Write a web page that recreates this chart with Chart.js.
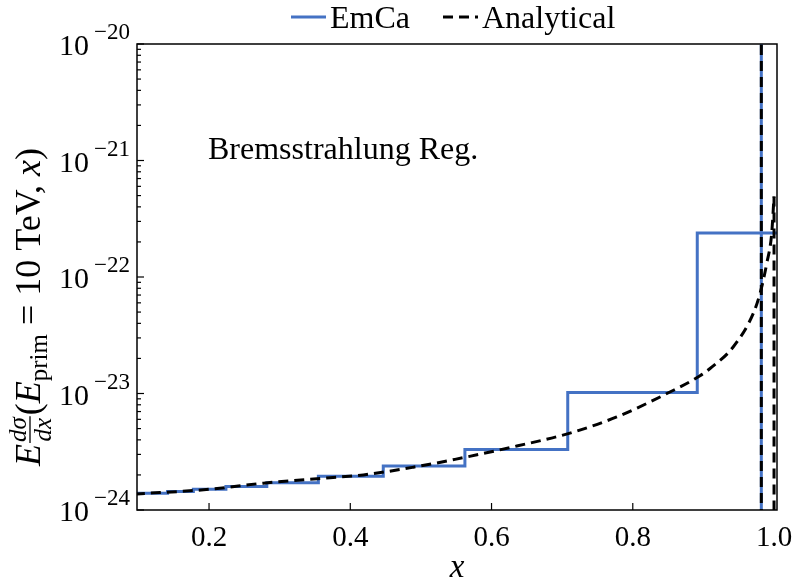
<!DOCTYPE html>
<html>
<head>
<meta charset="utf-8">
<script src="https://cdn.jsdelivr.net/npm/chart.js@4.4.0/dist/chart.umd.min.js"></script>
<style>
  html, body { margin: 0; padding: 0; background: #fff; }
</style>
</head>
<body>
<canvas id="brems" width="793" height="582"></canvas>
<script>
// histogram bin edges (log spaced) and EmCa value of each bin
const binEdges = [0.0891, 0.1122, 0.1413, 0.1778, 0.2239, 0.2818, 0.3548, 0.4467, 0.5623, 0.7079, 0.8913, 1.1220];
const emcaValues = [1.39e-24, 1.39e-24, 1.44e-24, 1.51e-24, 1.59e-24, 1.71e-24, 1.95e-24, 2.39e-24, 3.30e-24, 1.02e-23, 2.39e-22];

// analytical curve
const curveX = [0.095, 0.2014, 0.2769, 0.3713, 0.4185, 0.4893, 0.5483, 0.6357, 0.7098, 0.7773, 0.8533, 0.8952, 0.9094, 0.9424, 0.9707, 0.9802, 0.9897, 0.9967, 1.0];
const curveY = [1.37e-24, 1.507e-24, 1.70e-24, 1.89e-24, 2.0e-24, 2.33e-24, 2.72e-24, 3.54e-24, 4.55e-24, 6.3e-24, 1.035e-23, 1.42e-23, 1.64e-23, 2.52e-23, 4.88e-23, 7.24e-23, 1.31e-22, 2.37e-22, 4.9e-22];
// the curve falls to zero at x = 1
const dropX = [1.0, 1.0];
const dropY = [4.9e-22, 1e-27];

// vertical marker line
const markerX = 0.982;

const xTicks = [0.2, 0.4, 0.6, 0.8, 1.0];
const yExponents = [-24, -23, -22, -21, -20];
const seriesLabels = ['EmCa', 'Analytical'];
const annotationText = 'Bremsstrahlung Reg.';

const blue = '#4472c4';
const serif = '"Liberation Serif", "DejaVu Serif", serif';
const dash = [10, 6];

// step points for the histogram
let stepPoints = [];
for (let i = 0; i < emcaValues.length; i++) {
    stepPoints.push({x: binEdges[i], y: emcaValues[i]});
}
stepPoints.push({x: binEdges[binEdges.length - 1], y: emcaValues[emcaValues.length - 1]});

const curvePoints = curveX.map((v, i) => ({x: v, y: curveY[i]}));
const dropPoints = dropX.map((v, i) => ({x: v, y: dropY[i]}));
const markerPoints = [{x: markerX, y: 1e-26}, {x: markerX, y: 1e-18}];

function drawLine(ctx, x1, y1, x2, y2) {
    ctx.beginPath();
    ctx.moveTo(x1, y1);
    ctx.lineTo(x2, y2);
    ctx.stroke();
}

// frame, inward ticks, y labels, y title, text and legend
const decor = {
    id: 'decor',
    afterDraw(chart) {
        const ctx = chart.ctx;
        const a = chart.chartArea;
        const xs = chart.scales.x;
        const ys = chart.scales.y;
        ctx.save();
        ctx.strokeStyle = '#000';
        ctx.fillStyle = '#000';
        ctx.setLineDash([]);

        ctx.lineWidth = 1.5;
        ctx.strokeRect(a.left, a.top, a.right - a.left, a.bottom - a.top);

        ctx.lineWidth = 1.2;
        xTicks.forEach(v => {
            const px = xs.getPixelForValue(v);
            drawLine(ctx, px, a.bottom, px, a.bottom - 7);
        });
        yExponents.forEach((e, i) => {
            const py = ys.getPixelForValue(Math.pow(10, e));
            drawLine(ctx, a.left, py, a.left + 7, py);
            if (i < yExponents.length - 1) {
                for (let m = 2; m < 10; m++) {
                    const pm = ys.getPixelForValue(m * Math.pow(10, e));
                    drawLine(ctx, a.left, pm, a.left + 4, pm);
                }
            }
            // 10^e label
            const sup = '\u2212' + Math.abs(e);
            ctx.textAlign = 'right';
            ctx.textBaseline = 'alphabetic';
            ctx.font = '23px ' + serif;
            ctx.fillText(sup, a.left - 7, py - 5);
            const w = ctx.measureText(sup).width;
            ctx.font = '30px ' + serif;
            ctx.fillText('10', a.left - 12 - w, py + 11);
        });

        // y axis title, rotated
        const big = 36, small = 25;
        const parts = [
            {t: 'E', f: 'italic ' + big + 'px ' + serif, dy: 0},
            {frac: ['d\u03c3', 'dx']},
            {t: '(', f: big + 'px ' + serif, dy: 0},
            {t: 'E', f: 'italic ' + big + 'px ' + serif, dy: 0},
            {t: 'prim', f: small + 'px ' + serif, dy: 7},
            {t: ' = 10 TeV, ', f: big + 'px ' + serif, dy: 0},
            {t: 'x', f: 'italic ' + big + 'px ' + serif, dy: 0},
            {t: ')', f: big + 'px ' + serif, dy: 0}
        ];
        let total = 0;
        parts.forEach(p => {
            if (p.frac) {
                ctx.font = 'italic ' + small + 'px ' + serif;
                p.w = Math.max(ctx.measureText(p.frac[0]).width, ctx.measureText(p.frac[1]).width) + 4;
            } else {
                ctx.font = p.f;
                p.w = ctx.measureText(p.t).width;
            }
            total += p.w;
        });
        ctx.save();
        ctx.translate(40, (a.top + a.bottom) / 2 + 30);
        ctx.rotate(-Math.PI / 2);
        ctx.textAlign = 'left';
        let cx = -total / 2;
        parts.forEach(p => {
            if (p.frac) {
                ctx.font = 'italic ' + small + 'px ' + serif;
                ctx.textAlign = 'center';
                ctx.fillText(p.frac[0], cx + p.w / 2, -14);
                ctx.fillText(p.frac[1], cx + p.w / 2, 11);
                ctx.lineWidth = 1.3;
                drawLine(ctx, cx + 1, -10, cx + p.w - 1, -10);
                ctx.textAlign = 'left';
            } else {
                ctx.font = p.f;
                ctx.fillText(p.t, cx, p.dy);
            }
            cx += p.w;
        });
        ctx.restore();

        // annotation inside the axes
        ctx.textAlign = 'left';
        ctx.font = '32px ' + serif;
        ctx.fillText(annotationText, a.left + 71, a.top + 115);

        // legend above the axes
        ctx.lineWidth = 3;
        ctx.strokeStyle = blue;
        drawLine(ctx, 291, 17, 326, 17);
        ctx.fillText(seriesLabels[0], 330, 28);
        ctx.strokeStyle = '#000';
        ctx.setLineDash(dash);
        drawLine(ctx, 443, 17, 478, 17);
        ctx.setLineDash([]);
        ctx.fillText(seriesLabels[1], 482, 28);
        ctx.restore();
    }
};

const chart = new Chart(document.getElementById('brems').getContext('2d'), {
    type: 'line',
    data: {
        datasets: [
            {
                label: seriesLabels[0],
                data: stepPoints,
                borderColor: blue,
                borderWidth: 3,
                stepped: true,
                pointRadius: 0,
                fill: false,
                order: 4
            },
            {
                label: seriesLabels[1],
                data: curvePoints,
                borderColor: '#000',
                borderWidth: 3,
                borderDash: dash,
                pointRadius: 0,
                fill: false,
                cubicInterpolationMode: 'monotone',
                order: 1
            },
            {
                label: 'Analytical drop',
                data: dropPoints,
                borderColor: '#000',
                borderWidth: 3,
                borderDash: dash,
                pointRadius: 0,
                fill: false,
                order: 1
            },
            {
                label: 'marker',
                data: markerPoints,
                borderColor: blue,
                borderWidth: 3,
                pointRadius: 0,
                order: 2
            },
            {
                label: 'marker dashed',
                data: markerPoints,
                borderColor: '#000',
                borderWidth: 3,
                borderDash: dash,
                pointRadius: 0,
                order: 0
            }
        ]
    },
    options: {
        responsive: false,
        devicePixelRatio: 1,
        animation: false,
        layout: {padding: {top: 44, right: 16, left: 0, bottom: 0}},
        plugins: {
            legend: {display: false},
            tooltip: {enabled: false}
        },
        scales: {
            x: {
                type: 'linear',
                min: 0.098,
                max: 1.0042,
                grid: {display: false},
                border: {display: false},
                afterBuildTicks: scale => {
                    scale.ticks = xTicks.map(v => ({value: v}));
                },
                afterFit: scale => {
                    scale.height = 72;
                    scale.paddingLeft = 0;
                    scale.paddingRight = 0;
                },
                ticks: {
                    color: '#000',
                    padding: 3,
                    maxRotation: 0,
                    autoSkip: false,
                    font: {family: serif, size: 29},
                    callback: v => v.toFixed(1)
                },
                title: {
                    display: true,
                    text: 'x',
                    color: '#000',
                    padding: {top: 0, bottom: 0},
                    font: {family: serif, size: 33, style: 'italic', lineHeight: 0.8}
                }
            },
            y: {
                type: 'logarithmic',
                min: 1e-24,
                max: 1e-20,
                grid: {display: false},
                border: {display: false},
                ticks: {display: false},
                afterBuildTicks: scale => {
                    scale.ticks = yExponents.map(e => ({value: Math.pow(10, e)}));
                },
                afterFit: scale => {
                    scale.width = 137;
                }
            }
        }
    },
    plugins: [decor]
});
</script>
</body>
</html>
